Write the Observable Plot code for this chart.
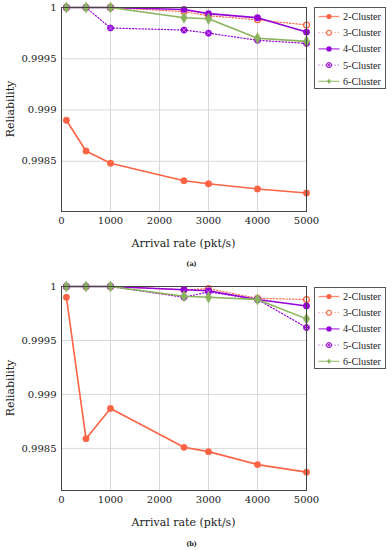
<!DOCTYPE html>
<html>
<head>
<meta charset="utf-8">
<script src="https://cdn.jsdelivr.net/npm/d3@7"></script>
<script src="https://cdn.jsdelivr.net/npm/@observablehq/plot@0.6"></script>
<style>
  body { margin: 0; background: #fff; font-family: "DejaVu Serif", serif; }
  #root { position: relative; width: 392px; height: 550px; overflow: hidden; }
  .panel { position: absolute; left: 0; width: 392px; }
  .lbl { position: absolute; font-family: "DejaVu Serif", serif; color: #222; white-space: nowrap; }
  .legend { position: absolute; background: #fff; border: 1px solid #555; box-sizing: border-box; }
</style>
</head>
<body>
<div id="root"></div>
<script>
// ---- data ----
const rates = [100, 500, 1000, 2500, 3000, 4000, 5000];
const seriesNames = ["2-Cluster", "3-Cluster", "4-Cluster", "5-Cluster", "6-Cluster"];
const xTicks = [0, 1000, 2000, 3000, 4000, 5000];
const yTicks = [0.9985, 0.999, 0.9995, 1];

// panel (a)
const a2 = [0.99890, 0.99860, 0.99848, 0.99831, 0.99828, 0.99823, 0.99819];
const a3 = [1, 1, 1, 0.99996, 0.99992, 0.99988, 0.99983];
const a4 = [1, 1, 1, 0.99998, 0.99994, 0.99990, 0.99976];
const a5 = [1, 1, 0.99980, 0.99978, 0.99975, 0.99968, 0.99965];
const a6 = [1, 1, 1, 0.99990, 0.99989, 0.99970, 0.99967];
// panel (b)
const b2 = [0.99990, 0.99859, 0.99887, 0.99851, 0.99847, 0.99835, 0.99828];
const b3 = [1, 1, 1, 0.99997, 0.99998, 0.99989, 0.99988];
const b4 = [1, 1, 1, 0.99997, 0.99996, 0.99988, 0.99982];
const b5 = [1, 1, 1, 0.99990, 0.99995, 0.99988, 0.99962];
const b6 = [1, 1, 1, 0.99991, 0.99990, 0.99988, 0.99970];

// ---- styles ----
const ORANGE = "#fd6344", PURPLE = "#9400d6", GREEN = "#8ab35c";
const style = {
  "2-Cluster": {color: ORANGE, dash: null, width: 1.6},
  "3-Cluster": {color: ORANGE, dash: "1.2,2", width: 1.2},
  "4-Cluster": {color: PURPLE, dash: null, width: 1.6},
  "5-Cluster": {color: PURPLE, dash: "1.2,2", width: 1.2},
  "6-Cluster": {color: GREEN, dash: null, width: 1.6}
};

function rows(arrs) {
  const out = [];
  arrs.forEach((arr, si) => arr.forEach((v, i) => out.push({series: seriesNames[si], x: rates[i], y: v})));
  return out;
}

function seriesMarks(data) {
  const marks = [];
  for (const s of seriesNames) {
    const d = data.filter(r => r.series === s);
    const st = style[s];
    marks.push(Plot.line(d, {x: "x", y: "y", stroke: st.color, strokeWidth: st.width, strokeDasharray: st.dash}));
    if (s === "2-Cluster" || s === "4-Cluster") {
      marks.push(Plot.dot(d, {x: "x", y: "y", r: 3.2, fill: st.color, stroke: st.color, strokeWidth: 0.5}));
    } else if (s === "3-Cluster") {
      marks.push(Plot.dot(d, {x: "x", y: "y", r: 2.9, fill: "#fff", stroke: st.color, strokeWidth: 1.3}));
    } else if (s === "5-Cluster") {
      marks.push(Plot.dot(d, {x: "x", y: "y", r: 3.1, fill: st.color, stroke: st.color, strokeWidth: 0.6}));
      marks.push(Plot.dot(d, {x: "x", y: "y", r: 2, symbol: "times", stroke: "#d9a8f5", strokeWidth: 0.7}));
    } else {
      marks.push(Plot.dot(d, {x: "x", y: "y", r: 3.4, symbol: "diamond", fill: st.color, stroke: st.color, strokeWidth: 0.5}));
    }
  }
  return marks;
}

function makePanel(arrs, yMin) {
  const data = rows(arrs);
  return Plot.plot({
    width: 392, height: 232,
    marginTop: 7, marginLeft: 61, marginRight: 86, marginBottom: 21,
    style: {fontFamily: "DejaVu Serif, serif", fontSize: "10px", color: "#222", background: "#fff"},
    x: {domain: [0, 5000], ticks: xTicks, tickSize: 0, tickPadding: 5, label: null, tickFormat: d => String(d)},
    y: {domain: [yMin, 1], ticks: yTicks, tickSize: 0, tickPadding: 5, label: null, tickFormat: d => String(+d.toFixed(4))},
    marks: [
      Plot.gridX(xTicks, {stroke: "#cfcfcf", strokeOpacity: 1, strokeWidth: 0.8}),
      Plot.gridY(yTicks, {stroke: "#cfcfcf", strokeOpacity: 1, strokeWidth: 0.8}),
      ...seriesMarks(data),
      Plot.frame({stroke: "#444", strokeWidth: 1})
    ]
  });
}

function legendEl(top) {
  const div = document.createElement("div");
  div.className = "legend";
  Object.assign(div.style, {left: "314px", top: top + "px", width: "72px", height: "82px"});
  const svg = d3.select(div).append("svg").attr("width", 70).attr("height", 80);
  seriesNames.forEach((s, i) => {
    const st = style[s];
    const g = svg.append("g").attr("transform", `translate(0,${8.5 + i * 16.2})`);
    g.append("line").attr("x1", 3.5).attr("x2", 24.5).attr("y1", 0).attr("y2", 0)
      .attr("stroke", st.color).attr("stroke-width", st.width * 0.8).attr("stroke-dasharray", st.dash)
      .attr("stroke-opacity", st.dash ? 0.7 : 0.75);
    if (s === "2-Cluster" || s === "4-Cluster") {
      g.append("circle").attr("cx", 14).attr("r", 2.6).attr("fill", st.color);
    } else if (s === "3-Cluster") {
      g.append("circle").attr("cx", 14).attr("r", 2.4).attr("fill", "#fff").attr("stroke", st.color).attr("stroke-width", 1.1);
    } else if (s === "5-Cluster") {
      g.append("circle").attr("cx", 14).attr("r", 2.5).attr("fill", "#e8c8fa").attr("stroke", st.color).attr("stroke-width", 1);
      g.append("path").attr("d", "M12.4,-1.6L15.6,1.6M12.4,1.6L15.6,-1.6").attr("stroke", st.color).attr("stroke-width", 0.8);
    } else {
      g.append("path").attr("d", "M14,-2.6L16,0L14,2.6L12,0Z").attr("fill", st.color);
    }
    g.append("text").attr("x", 28).attr("y", 0).attr("dy", "0.35em")
      .attr("font-family", "Liberation Serif, serif").attr("font-size", "10.2px").attr("fill", "#222").text(s);
  });
  return div;
}

function addLabel(text, x, y, opts = {}) {
  const d = document.createElement("div");
  d.className = "lbl";
  d.textContent = text;
  Object.assign(d.style, {left: x + "px", top: y + "px", fontSize: (opts.size || 11) + "px",
    transform: "translate(-50%,-50%)" + (opts.rotate ? " rotate(-90deg)" : ""),
    fontWeight: opts.bold ? "bold" : "normal"});
  document.getElementById("root").appendChild(d);
}

const root = document.getElementById("root");
const panels = [
  {arrs: [a2, a3, a4, a5, a6], yMin: 0.99801, top: 0, cap: "(a)"},
  {arrs: [b2, b3, b4, b5, b6], yMin: 0.99811, top: 279.4, cap: "(b)"}
];
for (const p of panels) {
  const div = document.createElement("div");
  div.className = "panel";
  div.style.top = p.top + "px";
  div.appendChild(makePanel(p.arrs, p.yMin));
  root.appendChild(div);
  root.appendChild(legendEl(p.top + 7.3));
  addLabel("Arrival rate (pkt/s)", 183.5, p.top + 242.7, {size: 11});
  addLabel(p.cap, 191.5, p.top + 264.3, {size: 6.5, bold: true});
  addLabel("Reliability", 9.5, p.top + 109, {size: 11, rotate: true});
}
</script>
</body>
</html>
